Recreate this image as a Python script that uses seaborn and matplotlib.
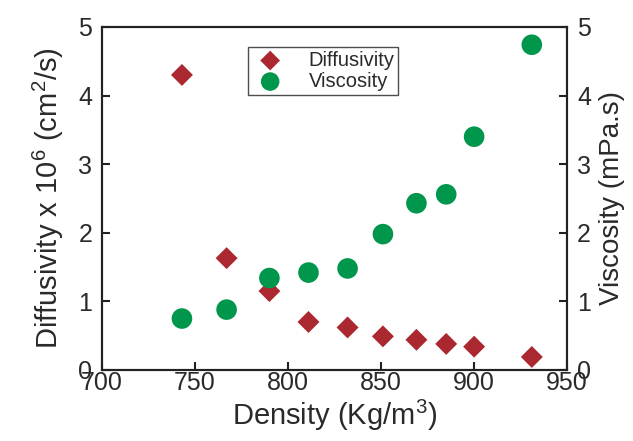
import matplotlib
matplotlib.use("Agg")
import matplotlib.pyplot as plt
import seaborn as sns
import pandas as pd

density = [743, 767, 790, 811, 832, 851, 869, 885, 900, 931]
diffusivity = [4.30, 1.63, 1.15, 0.70, 0.62, 0.49, 0.44, 0.38, 0.34, 0.19]
viscosity = [0.75, 0.88, 1.34, 1.42, 1.48, 1.98, 2.43, 2.56, 3.40, 4.74]

sns.set_theme(style="ticks")
plt.rcParams['font.family'] = ['Liberation Sans', 'DejaVu Sans']
plt.rcParams['mathtext.fontset'] = 'custom'
plt.rcParams['mathtext.rm'] = 'Liberation Sans'
plt.rcParams['mathtext.it'] = 'Liberation Sans'

df = pd.DataFrame({"Density": density, "Diffusivity": diffusivity, "Viscosity": viscosity})

red = "#AC2830"
green = "#00964B"
txt = "#2a2a2a"

fig = plt.figure(figsize=(6.33, 4.41), dpi=100)
ax = fig.add_axes([0.161, 0.161, 0.735, 0.778])
ax2 = ax.twinx()

sns.scatterplot(data=df, x="Density", y="Diffusivity", ax=ax, marker="D", s=125,
                color=red, edgecolor="none", label="Diffusivity", legend=False, zorder=3)
sns.scatterplot(data=df, x="Density", y="Viscosity", ax=ax2, marker="o", s=220,
                color=green, edgecolor="none", label="Viscosity", legend=False, zorder=3)

ax.set_xlim(700, 950)
ax.set_ylim(0, 5)
ax2.set_ylim(0, 5)
ax.set_xticks([700, 750, 800, 850, 900, 950])
ax.set_yticks([0, 1, 2, 3, 4, 5])
ax2.set_yticks([0, 1, 2, 3, 4, 5])

fs = 18
ax.tick_params(axis="x", direction="in", length=6, width=1.5, labelsize=fs, colors="#222222", labelcolor=txt, pad=1)
ax.tick_params(axis="y", direction="in", length=6, width=1.5, labelsize=fs, colors="#222222", labelcolor=txt, pad=7)
ax2.tick_params(axis="y", direction="in", length=6, width=1.5, labelsize=fs, colors="#222222", labelcolor=txt, pad=7)
for a in (ax, ax2):
    for sp in a.spines.values():
        sp.set_visible(True)
        sp.set_linewidth(1.5)
        sp.set_color("#222222")

ax.set_xlabel(r"Density (Kg/m$^{3}$)", fontsize=21, color=txt, labelpad=2)
ax.set_ylabel(r"Diffusivity x 10$^{6}$ (cm$^{2}$/s)", fontsize=21, color=txt, labelpad=9)
ax2.set_ylabel("Viscosity (mPa.s)", fontsize=20, color=txt, labelpad=6)

h1, l1 = ax.get_legend_handles_labels()
h2, l2 = ax2.get_legend_handles_labels()
leg = ax2.legend(h1 + h2, l1 + l2, loc="upper left", bbox_to_anchor=(0.314, 0.942),
                 prop={"size": 14.5}, frameon=True, fancybox=False, edgecolor="#222222",
                 borderpad=0.2, handletextpad=1.0, labelspacing=0.1, markerscale=0.9,
                 handlelength=1.8, borderaxespad=0)
leg.get_frame().set_linewidth(1.0)
for t in leg.get_texts():
    t.set_color(txt)

fig.savefig("out.png", dpi=100)
